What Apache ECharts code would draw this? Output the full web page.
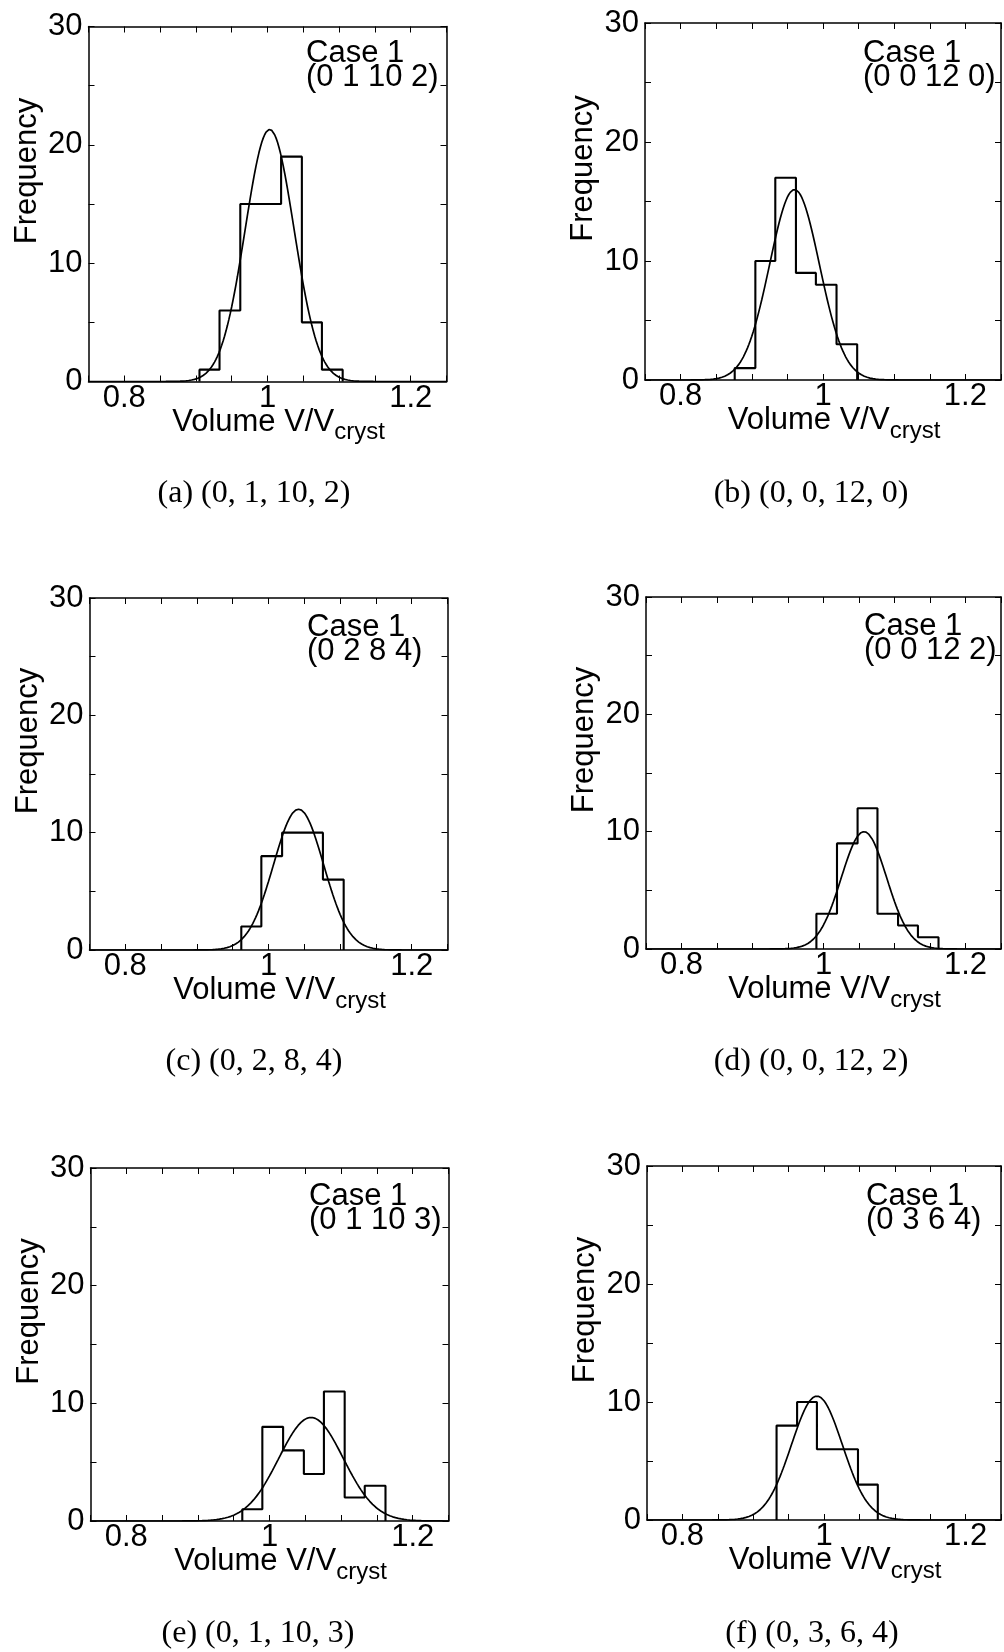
<!DOCTYPE html>
<html><head><meta charset="utf-8">
<script src="https://cdn.jsdelivr.net/npm/echarts/dist/echarts.min.js"></script>
<style>html,body{margin:0;padding:0;background:#fff}#c{width:1004px;height:1652px}</style>
</head><body><div id="c"></div>
<script>
// ---------- data ----------
const binEdges = [0.876, 0.905, 0.933, 0.962, 0.990, 1.019, 1.048, 1.076, 1.105, 1.133, 1.162];
const countsA = [0, 1, 6, 15, 15, 19, 5, 1, 0, 0];
const countsB = [1, 10, 17, 9, 8, 3, 0, 0, 0, 0];
const countsC = [0, 0, 0, 2, 8, 10, 10, 6, 0, 0];
const countsD = [0, 0, 0, 0, 3, 9, 12, 3, 2, 1];
const countsE = [0, 0, 0, 1, 8, 6, 4, 11, 2, 3];
const countsF = [0, 0, 8, 10, 6, 6, 3, 0, 0, 0];
// Gaussian fit parameters (a..f)
const fitMean  = [1.003, 0.960, 1.042, 1.057, 1.058, 0.990];
const fitSigma = [0.034, 0.035, 0.035, 0.032, 0.045, 0.036];
const fitPeak  = [21.3, 16.0, 12.0, 10.0, 8.8, 10.5];
const caseTitle = 'Case 1';
const caseLabels = ['(0 1 10 2)', '(0 0 12 0)', '(0 2 8 4)', '(0 0 12 2)', '(0 1 10 3)', '(0 3 6 4)'];
const captions = ['(a) (0, 1, 10, 2)', '(b) (0, 0, 12, 0)', '(c) (0, 2, 8, 4)', '(d) (0, 0, 12, 2)', '(e) (0, 1, 10, 3)', '(f) (0, 3, 6, 4)'];
const xTickLabels = [0.8, 1, 1.2];
const yTickLabels = [0, 10, 20, 30];
const xLabelMain = 'Volume V/V';
const xLabelSub = 'cryst';
const yLabel = 'Frequency';

// ---------- layout ----------
const counts = [countsA, countsB, countsC, countsD, countsE, countsF];
const grids = [
  {left: 88.5, top: 26.5, width: 358, height: 355},
  {left: 645,  top: 23,   width: 358, height: 357},
  {left: 89.5, top: 598,  width: 358, height: 352},
  {left: 646,  top: 597,  width: 357, height: 352},
  {left: 90.5, top: 1168, width: 358, height: 353},
  {left: 647,  top: 1166, width: 357, height: 354}
];
const annPos = [[306, 41], [863, 41], [307, 615], [864, 614], [309, 1184], [866, 1184]];
const capPos = [[254, 494], [811, 494], [254, 1062], [811, 1062], [258, 1634], [812, 1634]];

const SANS = '"Liberation Sans", Arial, Helvetica, sans-serif';
const SERIF = '"Liberation Serif", "Times New Roman", serif';

function stepData(c) {
  let first = c.findIndex(v => v > 0);
  let last = c.length - 1 - [...c].reverse().findIndex(v => v > 0);
  const pts = [[binEdges[first], 0]];
  for (let i = first; i <= last; i++) pts.push([binEdges[i], c[i]]);
  pts.push([binEdges[last + 1], 0]);
  return pts;
}
function fitData(k) {
  const pts = [];
  for (let j = 0; j <= 250; j++) {
    const x = 0.75 + j * 0.002;
    const d = (x - fitMean[k]) / fitSigma[k];
    pts.push([x, fitPeak[k] * Math.exp(-0.5 * d * d)]);
  }
  return pts;
}
const isIn = (arr, v) => arr.find(t => Math.abs(t - v) < 1e-6);

const xAxis = [], yAxis = [], series = [], graphic = [];
grids.forEach((g, i) => {
  const axLine = {onZero: false, lineStyle: {color: '#000', width: 1.5}};
  const tick = {inside: true, length: 6, lineStyle: {color: '#000', width: 1}};
  const xc = {gridIndex: i, type: 'value', min: 0.75, max: 1.25, interval: 0.05, splitLine: {show: false}, axisLine: axLine, axisTick: tick};
  const yc = {gridIndex: i, type: 'value', min: 0, max: 30, interval: 5, splitLine: {show: false}, axisLine: axLine, axisTick: tick};
  xAxis.push(Object.assign({}, xc, {
    position: 'bottom',
    axisLabel: {margin: 1, fontSize: 31, fontFamily: SANS, color: '#000',
      formatter: v => { const t = isIn(xTickLabels, v); return t === undefined ? '' : String(t); }},
    name: '{a|' + xLabelMain + '}{s|' + xLabelSub + '}',
    nameLocation: 'middle', nameGap: 18, nameMoveOverlap: false,
    nameTextStyle: {color: '#000', padding: [0, 0, 0, 22],
      rich: {a: {fontSize: 31, fontFamily: SANS, color: '#000'},
             s: {fontSize: 24, fontFamily: SANS, color: '#000', padding: [21, 0, 0, 0]}}}
  }));
  xAxis.push(Object.assign({}, xc, {position: 'top', axisLabel: {show: false}}));
  yAxis.push(Object.assign({}, yc, {
    position: 'left',
    axisLabel: {margin: 6, fontSize: 31, fontFamily: SANS, color: '#000',
      formatter: v => { const t = isIn(yTickLabels, v); return t === undefined ? '' : String(t); }},
    name: yLabel, nameLocation: 'middle', nameGap: 46, nameMoveOverlap: false,
    nameTextStyle: {fontSize: 31, fontFamily: SANS, color: '#000', padding: [0, 0, 0, 66]}
  }));
  yAxis.push(Object.assign({}, yc, {position: 'right', axisLabel: {show: false}}));
  series.push({type: 'line', xAxisIndex: 2 * i, yAxisIndex: 2 * i, step: 'end', data: stepData(counts[i]),
    showSymbol: false, symbol: 'none', silent: true, lineStyle: {color: '#000', width: 2.1}});
  series.push({type: 'line', xAxisIndex: 2 * i, yAxisIndex: 2 * i, data: fitData(i),
    showSymbol: false, symbol: 'none', silent: true, lineStyle: {color: '#000', width: 1.7}});
  graphic.push({type: 'text', x: annPos[i][0], y: annPos[i][1], silent: true,
    style: {text: caseTitle + '\n' + caseLabels[i], font: '31px ' + SANS, fontSize: 31, fontFamily: SANS,
      lineHeight: 24, fill: '#000', textAlign: 'left', align: 'left', textVerticalAlign: 'top', verticalAlign: 'top'}});
  graphic.push({type: 'text', x: capPos[i][0], y: capPos[i][1], silent: true,
    style: {text: captions[i], font: '32px ' + SERIF, fontSize: 32, fontFamily: SERIF, fill: '#000',
      textAlign: 'center', align: 'center', textVerticalAlign: 'middle', verticalAlign: 'middle'}});
});

const chart = echarts.init(document.getElementById('c'), null, {renderer: 'canvas'});
chart.setOption({
  backgroundColor: '#fff',
  animation: false,
  grid: grids.map(g => Object.assign({containLabel: false}, g)),
  xAxis, yAxis, series, graphic
});
</script></body></html>
